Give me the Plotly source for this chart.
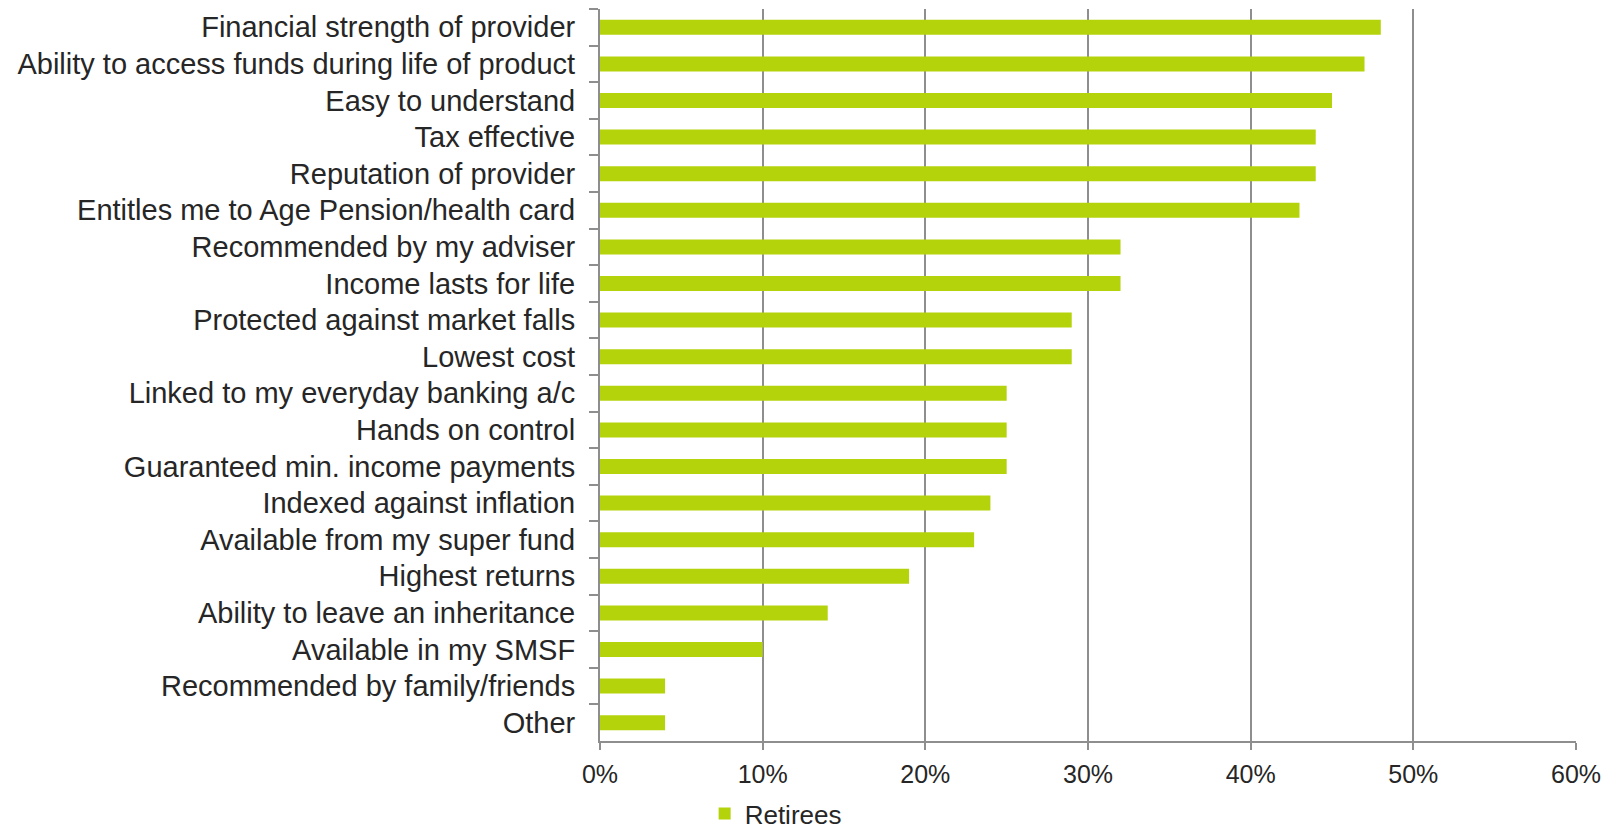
import plotly.graph_objects as go

# Product features rated important by retirees (share of respondents)
features = [
    "Financial strength of provider",
    "Ability to access funds during life of product",
    "Easy to understand",
    "Tax effective",
    "Reputation of provider",
    "Entitles me to Age Pension/health card",
    "Recommended by my adviser",
    "Income lasts for life",
    "Protected against market falls",
    "Lowest cost",
    "Linked to my everyday banking a/c",
    "Hands on control",
    "Guaranteed min. income payments",
    "Indexed against inflation",
    "Available from my super fund",
    "Highest returns",
    "Ability to leave an inheritance",
    "Available in my SMSF",
    "Recommended by family/friends",
    "Other",
]
retirees = [0.48, 0.47, 0.45, 0.44, 0.44, 0.43, 0.32, 0.32, 0.29, 0.29,
            0.25, 0.25, 0.25, 0.24, 0.23, 0.19, 0.14, 0.10, 0.04, 0.04]
x_ticks = [0.0, 0.1, 0.2, 0.3, 0.4, 0.5, 0.6]

BAR = "#B5D30B"
GRID = "#8E8E8E"
TEXT = "#262626"
FONT = "Liberation Sans, Arial, sans-serif"

fig = go.Figure(
    go.Bar(
        x=retirees,
        y=features,
        orientation="h",
        name="Retirees",
        marker=dict(color=BAR, line=dict(width=0)),
    )
)

fig.update_layout(
    width=1618,
    height=837,
    margin=dict(l=600, r=42, t=9, b=96, autoexpand=False),
    paper_bgcolor="white",
    plot_bgcolor="white",
    bargap=0.59,
    font=dict(family=FONT, color=TEXT),
    showlegend=True,
    legend=dict(
        orientation="h",
        xref="container",
        yref="container",
        x=0.4355,
        y=0.0,
        xanchor="left",
        yanchor="bottom",
        borderwidth=0,
        font=dict(size=26, color=TEXT, family=FONT),
        bgcolor="rgba(0,0,0,0)",
    ),
)

fig.update_xaxes(
    range=[0, 0.6],
    tickvals=x_ticks,
    tickformat=".0%",
    showgrid=True,
    gridcolor=GRID,
    gridwidth=2,
    zeroline=False,
    showline=True,
    linecolor=GRID,
    linewidth=2,
    ticks="outside",
    ticklen=7,
    tickwidth=2,
    tickcolor=GRID,
    tickfont=dict(size=25, color=TEXT, family=FONT),
    ticklabelstandoff=3,
    fixedrange=True,
)

fig.update_yaxes(
    autorange="reversed",
    type="category",
    showgrid=False,
    zeroline=False,
    showline=True,
    linecolor=GRID,
    linewidth=2,
    ticks="outside",
    tickson="boundaries",
    ticklen=9,
    tickwidth=2,
    tickcolor=GRID,
    tickfont=dict(size=29, color=TEXT, family=FONT),
    ticklabelstandoff=17,
    fixedrange=True,
)

fig.write_html("out.html", config={"displayModeBar": False})
